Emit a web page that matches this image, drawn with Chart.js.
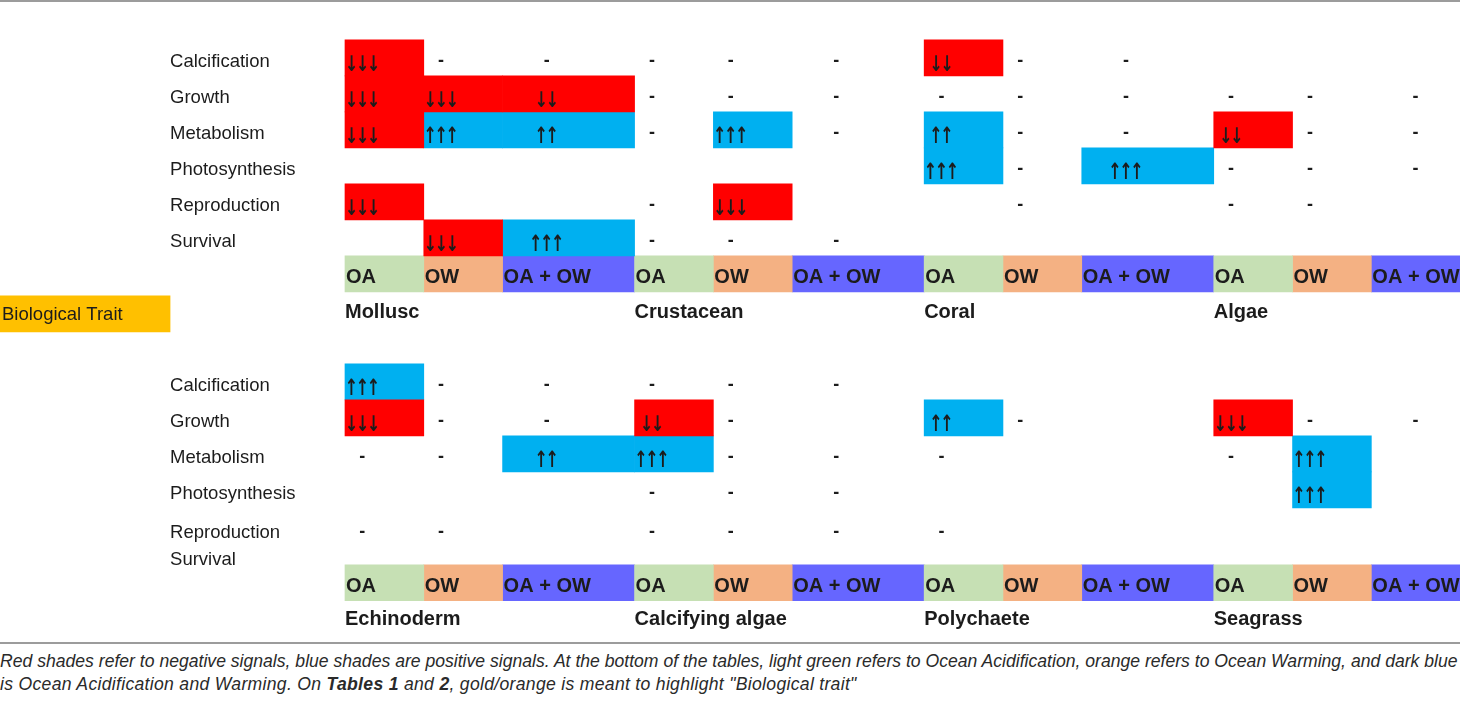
<!DOCTYPE html>
<html>
<head>
<meta charset="utf-8">
<title>Biological traits under OA / OW</title>
<style>
  body { margin: 0; background: #fff; }
  #wrap { position: relative; width: 1460px; height: 701px; overflow: hidden; }
  #chart { position: absolute; left: 0; top: 0; }
  .rule { position: absolute; left: 0; width: 1460px; height: 2px; background: #9c9c9c; }
  #caption {
    position: absolute; left: 0; top: 650px; margin: 0;
    font: italic 17.6px "Liberation Sans", Arial, sans-serif; line-height: 23px;
    color: #2a2a2a; white-space: nowrap;
  }
  #caption .l2 { letter-spacing: 0.3px; }
</style>
</head>
<body>
<div id="wrap">
  <canvas id="chart" width="1460" height="640"></canvas>
  <div class="rule" style="top:0"></div>
  <div class="rule" style="top:642px"></div>
  <p id="caption">Red shades refer to negative signals, blue shades are positive signals. At the bottom of the tables, light green refers to Ocean Acidification, orange refers to Ocean Warming, and dark blue<br><span class="l2">is Ocean Acidification and Warming. On <b>Tables 1</b> and <b>2</b>, gold/orange is meant to highlight "Biological trait"</span></p>
</div>

<script src="https://cdn.jsdelivr.net/npm/chart.js"></script>

<script>
// data
const traits = ['Calcification', 'Growth', 'Metabolism', 'Photosynthesis', 'Reproduction', 'Survival'];
const treatments = ['OA', 'OW', 'OA + OW'];
const groupsTop = ['Mollusc', 'Crustacean', 'Coral', 'Algae'];
const groupsBottom = ['Echinoderm', 'Calcifying algae', 'Polychaete', 'Seagrass'];
const traitHeader = 'Biological Trait';

// one row per trait, 12 cells = 4 groups x (OA, OW, OA + OW)
// -3..-1 down arrows (red), 1..3 up arrows (blue), 0 = "-", null = empty
const signalsTop = [
  [-3, 0, 0,     0, 0, 0,        -2, 0, 0,       null, null, null],
  [-3, -3, -2,   0, 0, 0,        0, 0, 0,        0, 0, 0],
  [-3, 3, 2,     0, 3, 0,        2, 0, 0,        -2, 0, 0],
  [null, null, null, null, null, null, 3, 0, 3,  0, 0, 0],
  [-3, null, null, 0, -3, null,  null, 0, null,  0, 0, null],
  [null, -3, 3,  0, 0, 0,        null, null, null, null, null, null]
];
const signalsBottom = [
  [3, 0, 0,      0, 0, 0,        null, null, null, null, null, null],
  [-3, 0, 0,     -2, 0, null,    2, 0, null,     -3, 0, 0],
  [0, 0, 2,      3, 0, 0,        0, null, null,  0, 3, null],
  [null, null, null, 0, 0, 0,    null, null, null, null, 3, null],
  [0, 0, null,   0, 0, 0,        0, null, null,  null, null, null],
  [null, null, null, null, null, null, null, null, null, null, null, null]
];

// layout: x in cell units (OA / OW cell = 1), y in row units (one trait row = 1)
const cellW = [1, 1, 1.675];
const groupW = 3.675;
const textDx = [0.22, 0.22, 0.56];
const labelX = -2.22;
const X_MIN = -4.378, X_MAX = 14.15;
const Y_MIN = -1.11, Y_MAX = 16.67;
const tables = [
  { groups: groupsTop, signals: signalsTop, rows: [0.5, 1.5, 2.5, 3.5, 4.5, 5.5], band: 6.5, names: 7.61 },
  { groups: groupsBottom, signals: signalsBottom, rows: [9.5, 10.5, 11.5, 12.5, 13.58, 14.33], band: 15.08, names: 16.14 }
];

function cellLeft(c) {
  const t = c % 3;
  let x = Math.floor(c / 3) * groupW;
  for (let i = 0; i < t; i++) x += cellW[i];
  return x;
}

const neg = [], pos = [], bands = [[], [], []];
tables.forEach(tb => {
  tb.signals.forEach((row, r) => row.forEach((v, c) => {
    if (!v) return;
    const x0 = cellLeft(c);
    (v < 0 ? neg : pos).push({ x: [x0, x0 + cellW[c % 3]], y: tb.rows[r] });
  }));
  tb.groups.forEach((g, gi) => treatments.forEach((t, ti) => {
    const x0 = cellLeft(gi * 3 + ti);
    bands[ti].push({ x: [x0, x0 + cellW[ti]], y: tb.band });
  }));
});

// one narrow arrow glyph fitted into a w x h box centred on (px, py)
function drawArrow(ctx, glyph, px, py, w, h) {
  ctx.save();
  ctx.font = 'bold 24px "DejaVu Sans"';
  ctx.textAlign = 'left';
  ctx.textBaseline = 'alphabetic';
  const m = ctx.measureText(glyph);
  const gw = m.actualBoundingBoxLeft + m.actualBoundingBoxRight;
  const gh = m.actualBoundingBoxAscent + m.actualBoundingBoxDescent;
  ctx.translate(px, py);
  ctx.scale(w / gw, h / gh);
  ctx.fillText(glyph, -(m.actualBoundingBoxRight - m.actualBoundingBoxLeft) / 2,
    (m.actualBoundingBoxAscent - m.actualBoundingBoxDescent) / 2);
  ctx.restore();
}

const textPlugin = {
  id: 'tableText',
  afterDatasetsDraw(chart) {
    const { ctx, scales: { x, y } } = chart;
    ctx.save();
    ctx.fillStyle = '#1c1c1c';
    ctx.textBaseline = 'middle';
    tables.forEach(tb => {
      ctx.font = '18.5px "Liberation Sans"';
      ctx.textAlign = 'left';
      traits.forEach((t, r) => ctx.fillText(t, x.getPixelForValue(labelX), y.getPixelForValue(tb.rows[r]) + 4));

      ctx.textAlign = 'center';
      tb.signals.forEach((row, r) => row.forEach((v, c) => {
        if (v === null) return;
        const cx = x.getPixelForValue(cellLeft(c) + textDx[c % 3]);
        const cy = y.getPixelForValue(tb.rows[r]);
        if (v === 0) {
          ctx.font = 'bold 18px "Liberation Sans"';
          ctx.fillText('-', cx, cy + 3);
        } else {
          const n = Math.abs(v);
          for (let i = 0; i < n; i++) {
            drawArrow(ctx, v < 0 ? '\u2193' : '\u2191', cx + (i - (n - 1) / 2) * 11, cy + 5, 8, 17);
          }
        }
      }));

      ctx.font = 'bold 20px "Liberation Sans"';
      ctx.textAlign = 'left';
      tb.groups.forEach((g, gi) => {
        treatments.forEach((t, ti) => {
          ctx.fillText(t, x.getPixelForValue(cellLeft(gi * 3 + ti)) + 1, y.getPixelForValue(tb.band) + 4);
        });
        ctx.fillText(g, x.getPixelForValue(gi * groupW), y.getPixelForValue(tb.names) - 1);
      });
    });
    ctx.font = '18.5px "Liberation Sans"';
    ctx.fillText(traitHeader, x.getPixelForValue(X_MIN) + 2, y.getPixelForValue(tables[0].names) + 1);
    ctx.restore();
  }
};

// every block is one row tall (36 px)
const common = { grouped: false, barThickness: 36, borderWidth: 0 };

new Chart(document.getElementById('chart'), {
  type: 'bar',
  data: {
    datasets: [
      { ...common, label: 'Biological Trait', data: [{ x: [X_MIN, labelX], y: tables[0].names }], backgroundColor: '#FFC000' },
      { ...common, label: 'negative', data: neg, backgroundColor: '#FF0000' },
      { ...common, label: 'positive', data: pos, backgroundColor: '#00B0F0' },
      { ...common, label: 'OA', data: bands[0], backgroundColor: '#C6E0B4' },
      { ...common, label: 'OW', data: bands[1], backgroundColor: '#F4B183' },
      { ...common, label: 'OA + OW', data: bands[2], backgroundColor: '#6666FF' }
    ]
  },
  options: {
    indexAxis: 'y',
    responsive: false,
    animation: false,
    events: [],
    layout: { padding: 0 },
    plugins: { legend: { display: false }, tooltip: { enabled: false } },
    scales: {
      x: { type: 'linear', min: X_MIN, max: X_MAX, offset: false, display: false },
      y: { type: 'linear', min: Y_MIN, max: Y_MAX, offset: false, reverse: true, display: false }
    }
  },
  plugins: [textPlugin]
});
</script>
</body>
</html>
